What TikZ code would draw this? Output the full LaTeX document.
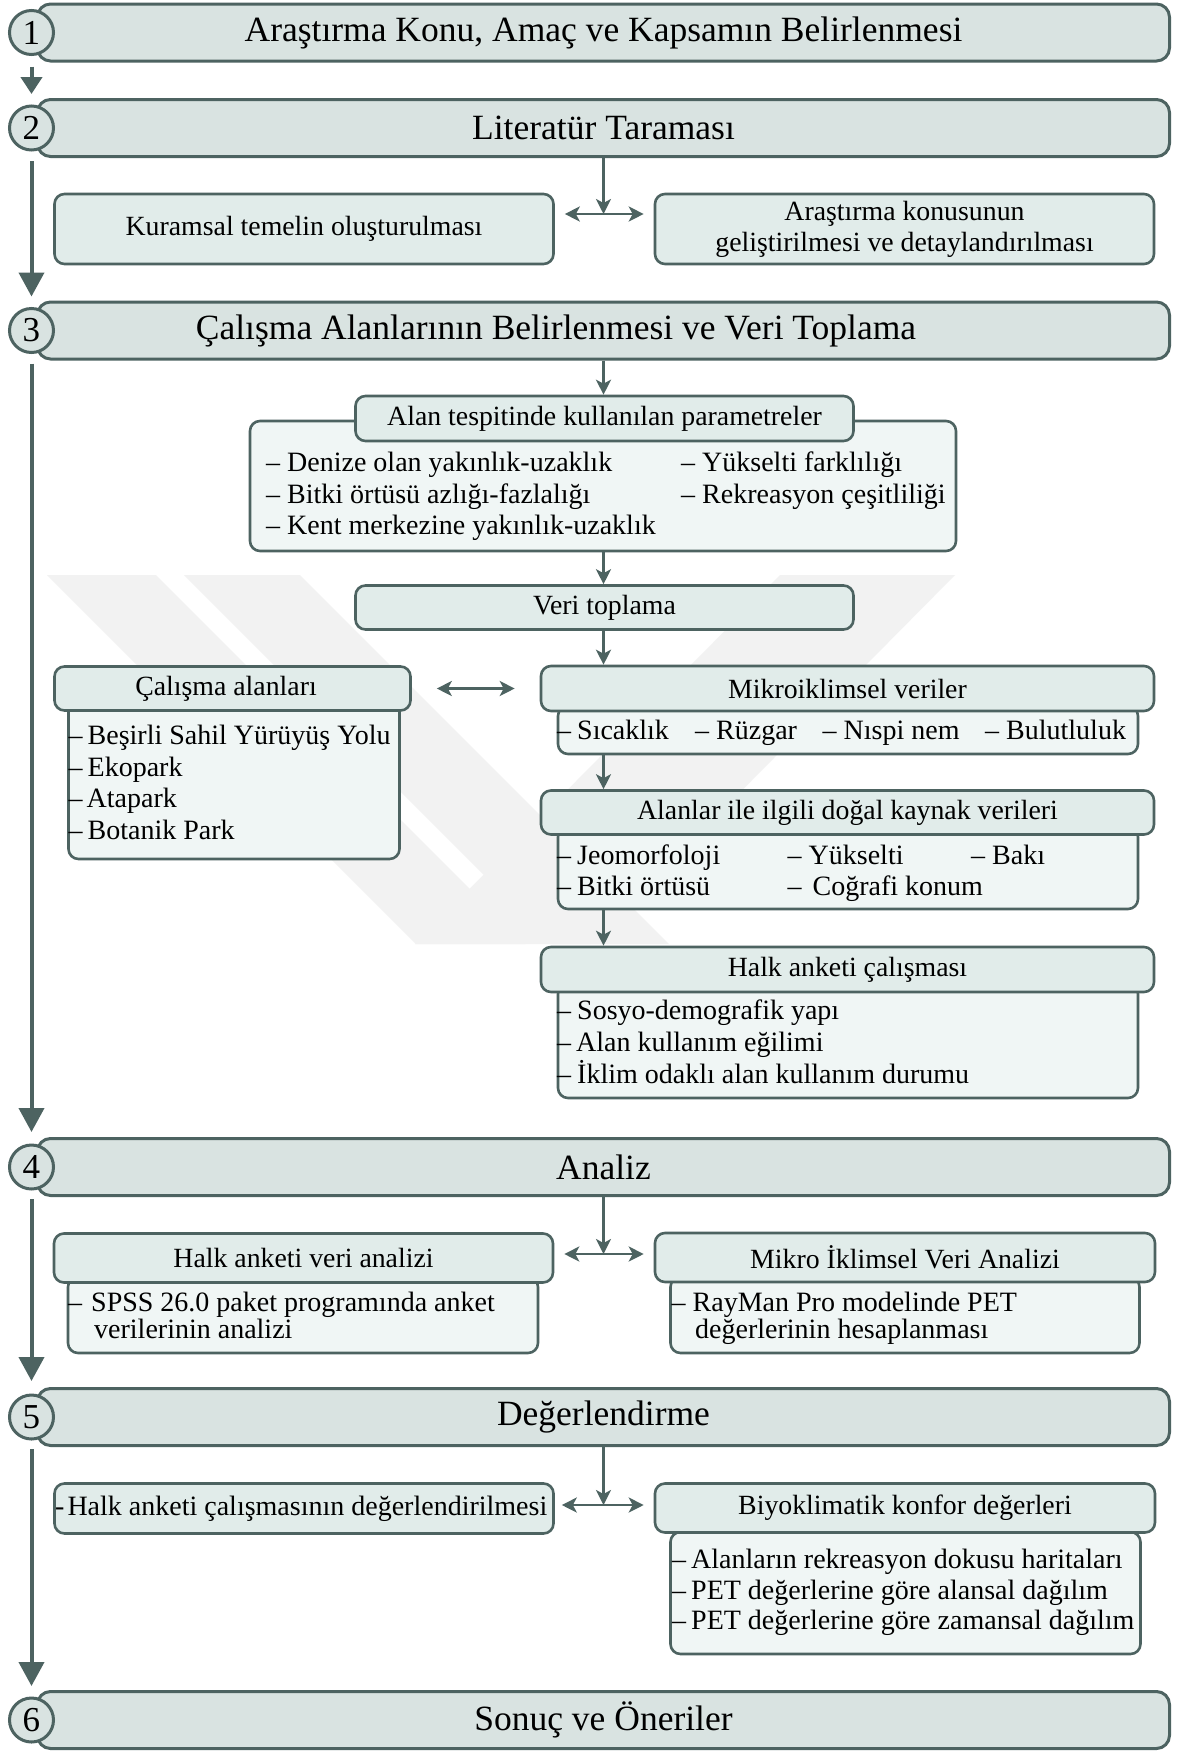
\documentclass[tikz,border=0pt]{standalone}
\usepackage{fontspec}
\setmainfont{Liberation Serif}
\usetikzlibrary{arrows.meta,calc}
\definecolor{bord}{HTML}{4D6361}
\definecolor{hfill}{HTML}{D9E3E1}
\definecolor{tfill}{HTML}{E1ECEA}
\definecolor{bfill}{HTML}{F0F6F5}
\definecolor{wmark}{HTML}{F2F2F2}
\begin{document}
\begin{tikzpicture}[x=1pt,y=-1pt,
  hdr/.style={draw=bord, fill=hfill, line width=3pt, rounded corners=13pt, inner sep=0pt, minimum width=1132pt, minimum height=57pt, font=\fontsize{35.5}{40}\selectfont},
  circ/.style={circle, draw=bord, fill=hfill, line width=3pt, minimum size=44pt, inner sep=0pt, font=\fontsize{35}{40}\selectfont},
  ttl/.style={draw=bord, fill=tfill, line width=2.6pt, rounded corners=10pt, inner sep=0pt, font=\fontsize{27.8}{31}\selectfont},
  bdy/.style={draw=bord, fill=bfill, line width=2.6pt, rounded corners=10pt, inner sep=0pt},
  itm/.style={anchor=west, inner sep=0pt, font=\fontsize{28}{31}\selectfont, text height=19pt, text depth=6pt},
  mainarr/.style={draw=bord, line width=4pt, -{Triangle[width=25pt,length=24pt]}},
  firstarr/.style={draw=bord, line width=4pt, -{Triangle[width=21pt,length=17pt]}},
  subarr/.style={draw=bord, line width=2.4pt, -{Stealth[width=15pt,length=15pt,inset=4pt]}},
  dblarr/.style={draw=bord, line width=2.4pt, {Stealth[width=15pt,length=15pt,inset=4pt]}-{Stealth[width=15pt,length=15pt,inset=4pt]}},
]
\useasboundingbox (0,0) rectangle (1176,1751);
\fill[white] (0,0) rectangle (1176,1751);

% watermark
\fill[wmark] (47,575) -- (156,575) -- (525,944) -- (416,944) -- cycle;
\fill[wmark] (184,575) -- (300,575) -- (669,944) -- (553,944) -- cycle;
\fill[wmark] (780,575) -- (955,575) -- (590,944) -- (415,944) -- cycle;

% headers
\node[hdr] (h1) at (603.5,32.5) {Araştırma Konu, Amaç ve Kapsamın Belirlenmesi};
\node[circ] (c1) at (31.5,32.5) {1};
\node[hdr] (h2) at (603.5,128) {Literatür Taraması};
\node[circ] (c2) at (31.5,128) {2};
\node[hdr] (h3) at (603.5,330.5) {};
\node[font=\fontsize{35.5}{40}\selectfont, inner sep=0pt] (h3t) at (556,330.5) {Çalışma Alanlarının Belirlenmesi ve Veri Toplama};
\node[circ] (c3) at (31.5,330.5) {3};
\node[hdr] (h4) at (603.5,1167) {Analiz};
\node[circ] (c4) at (31.5,1167) {4};
\node[hdr] (h5) at (603.5,1417) {Değerlendirme};
\node[circ] (c5) at (31.5,1417) {5};
\node[hdr] (h6) at (603.5,1720) {Sonuç ve Öneriler};
\node[circ] (c6) at (31.5,1720) {6};

% main arrows
\draw[firstarr, shorten <=4pt, shorten >=4pt] (c1 |- h1.south) -- (c2 |- h2.north);
\draw[mainarr, shorten <=3pt, shorten >=4pt] (c2 |- h2.south) -- (c3 |- h3.north);
\draw[mainarr, shorten <=3pt, shorten >=5pt] (c3 |- h3.south) -- (c4 |- h4.north);
\draw[mainarr, shorten <=2pt, shorten >=6pt] (c4 |- h4.south) -- (c5 |- h5.north);
\draw[mainarr, shorten <=2pt, shorten >=4pt] (c5 |- h5.south) -- (c6 |- h6.north);

% row 2
\node[ttl, minimum width=499pt, minimum height=70pt] (k1) at (304,229) {Kuramsal temelin oluşturulması};
\node[ttl, minimum width=499pt, minimum height=70pt, align=center] (k2) at (904.5,229) {Araştırma konusunun\\geliştirilmesi ve detaylandırılması};
\coordinate (j2) at (603.5,214);
\draw[subarr] (h2.south) -- (j2);
\draw[dblarr] ([xshift=10pt]k1.east |- j2) -- ([xshift=-10pt]k2.west |- j2);

% parameters
\node[bdy, minimum width=706pt, minimum height=130pt] (p2) at (603,486) {};
\node[ttl, minimum width=498pt, minimum height=45pt] (p1) at (604.5,418.5) {Alan tespitinde kullanılan parametreler};
\node[itm] (p3) at (266,465) {– Denize olan yakınlık-uzaklık};
\node[itm] (p4) at (266,497) {– Bitki örtüsü azlığı-fazlalığı};
\node[itm] (p5) at (266,528) {– Kent merkezine yakınlık-uzaklık};
\node[itm] (p6) at (681,465) {– Yükselti farklılığı};
\node[itm] (p7) at (681,497) {– Rekreasyon çeşitliliği};
\draw[subarr] (h3.south) -- (h3.south |- p1.north);

% veri toplama
\node[ttl, minimum width=498pt, minimum height=44pt] (v) at (604.5,607.5) {Veri toplama};
\draw[subarr] (p2.south -| h3.south) -- (v.north -| h3.south);

% calisma alanlari
\node[bdy, minimum width=331pt, minimum height=158pt] (ca2) at (234,780) {};
\node[ttl, minimum width=356pt, minimum height=44pt] (ca1) at (232.5,688.5) {};
\node[font=\fontsize{27.8}{31}\selectfont, inner sep=0pt] (ca1t) at (226,688.5) {Çalışma alanları};
\node[itm] (ca3) at (68.5,738) {–\hspace{5pt}Beşirli Sahil Yürüyüş Yolu};
\node[itm] (ca4) at (68.5,770) {–\hspace{5pt}Ekopark};
\node[itm] (ca5) at (68.5,801) {–\hspace{4pt}Atapark};
\node[itm] (ca6) at (68.5,833) {–\hspace{5pt}Botanik Park};

% mikroiklimsel
\node[bdy, minimum width=580pt, minimum height=48pt] (m2) at (848,730) {};
\node[ttl, minimum width=613pt, minimum height=45pt] (m1) at (847.5,688.5) {Mikroiklimsel veriler};
\node[itm] (m3) at (557,733) {–\hspace{6pt}Sıcaklık};
\node[itm] (m4) at (695,733) {– Rüzgar};
\node[itm] (m5) at (822.5,733) {– Nıspi nem};
\node[itm] (m6) at (985,733) {– Bulutluluk};
\draw[subarr] (v.south -| h3.south) -- (m1.north -| h3.south);
\draw[dblarr] ([xshift=25pt]ca1.east) -- ([xshift=-25pt]m1.west);

% dogal kaynak
\node[bdy, minimum width=580pt, minimum height=82pt] (n2) at (848,868) {};
\node[ttl, minimum width=613pt, minimum height=44pt] (n1) at (847.5,812.5) {Alanlar ile ilgili doğal kaynak verileri};
\node[itm] (n3) at (557,858) {–\hspace{6pt}Jeomorfoloji};
\node[itm] (n4) at (787.5,858) {– Yükselti};
\node[itm] (n5) at (971,858) {– Bakı};
\node[itm] (n6) at (557,889) {–\hspace{6pt}Bitki örtüsü};
\node[itm] (n7) at (787.5,889) {–\hspace{11pt}Coğrafi konum};
\draw[subarr] (m2.south -| h3.south) -- (n1.north -| h3.south);

% halk anketi
\node[bdy, minimum width=580pt, minimum height=114pt] (a2) at (848,1041) {};
\node[ttl, minimum width=613pt, minimum height=45pt] (a1) at (847.5,969.5) {Halk anketi çalışması};
\node[itm] (a3) at (557,1013) {–\hspace{6pt}Sosyo-demografik yapı};
\node[itm] (a4) at (557,1045) {–\hspace{5pt}Alan kullanım eğilimi};
\node[itm] (a5) at (557,1077) {–\hspace{6pt}İklim odaklı alan kullanım durumu};
\draw[subarr] (n2.south -| h3.south) -- (a1.north -| h3.south);

% analiz
\node[bdy, minimum width=470pt, minimum height=76pt] (ha2) at (303,1315) {};
\node[ttl, minimum width=499pt, minimum height=49pt] (ha1) at (303.5,1258) {Halk anketi veri analizi};
\node[itm] (ha3) at (68,1305) {–\hspace{9pt}SPSS 26.0 paket programında anket};
\node[itm] (ha4) at (94,1332) {verilerinin analizi};
\node[bdy, minimum width=469pt, minimum height=76pt] (mi2) at (905,1315) {};
\node[ttl, minimum width=500pt, minimum height=49pt] (mi1) at (905,1257.5) {Mikro İklimsel Veri Analizi};
\node[itm] (mi3) at (671.5,1305) {–\hspace{7pt}RayMan Pro modelinde PET};
\node[itm] (mi4) at (695,1332) {değerlerinin hesaplanması};
\coordinate (j4) at (603.5,1254);
\draw[subarr] (h4.south) -- (j4);
\draw[dblarr] ([xshift=10pt]ha1.east |- j4) -- ([xshift=-10pt]mi1.west |- j4);

% degerlendirme
\node[ttl, minimum width=499pt, minimum height=50pt] (de1) at (304,1508.5) {};
\node[itm] (de2) at (55,1508.5) {-\hspace{3pt}Halk anketi çalışmasının değerlendirilmesi};
\node[bdy, minimum width=470pt, minimum height=122pt] (bk2) at (905.5,1593) {};
\node[ttl, minimum width=500pt, minimum height=49pt] (bk1) at (905,1508) {Biyoklimatik konfor değerleri};
\node[itm] (bk3) at (672,1562) {–\hspace{5pt}Alanların rekreasyon dokusu haritaları};
\node[itm] (bk4) at (672,1593) {–\hspace{5pt}PET değerlerine göre alansal dağılım};
\node[itm] (bk5) at (672,1623) {–\hspace{5pt}PET değerlerine göre zamansal dağılım};
\coordinate (j5) at (603.5,1505);
\draw[subarr] (h5.south) -- (j5);
\draw[dblarr] ([xshift=7pt]de1.east |- j5) -- ([xshift=-10pt]bk1.west |- j5);
\end{tikzpicture}
\end{document}
